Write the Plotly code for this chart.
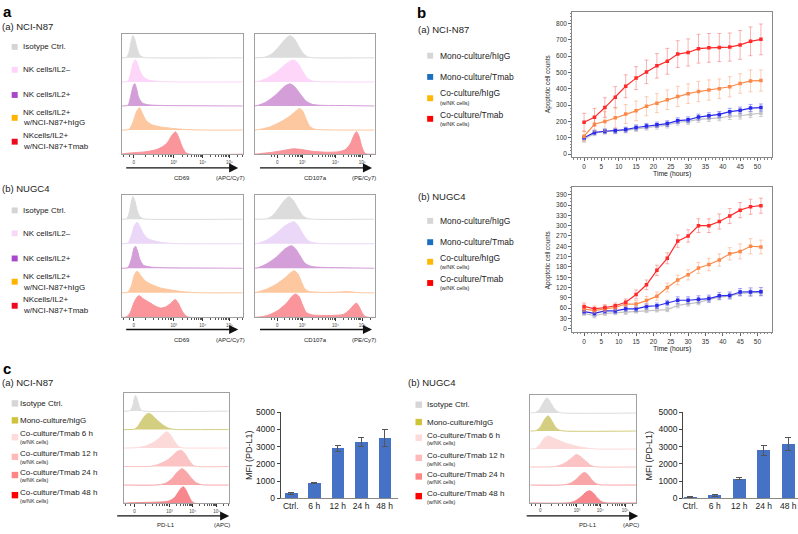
import numpy as np
import plotly.graph_objects as go

W, H = 798, 534
FONT = "Liberation Sans, Arial, sans-serif"

# ======================= DATA =======================
# ---- panel a: flow histograms (display position 0-100, relative density 0-1)
HIST_TICK_TEXT = ["0", "10³", "10⁴", "10⁵"]
CD69_TICKS = [9.9, 43, 67, 89]
CD107A_TICKS = [18.9, 39.7, 67.5, 89.7]
PDL1_N87_TICKS = [10.2, 43.5, 65.7, 88.6]
PDL1_NUGC4_TICKS = [9.4, 44, 66, 89.6]

N87_CD69_ISO = [(0, 0), (4, 0.02), (6, 0.25), (8, 0.75), (9.2, 0.93), (10.5, 0.8), (12.5, 0.4), (15, 0.1), (18, 0.02), (22, 0), (100, 0)]
N87_CD69_IL2N = [(0, 0), (5, 0.03), (7.5, 0.4), (9.5, 0.8), (11.3, 0.92), (13, 0.75), (15, 0.45), (18, 0.2), (22, 0.08), (28, 0.03), (35, 0.01), (45, 0), (100, 0)]
N87_CD69_IL2P = [(0, 0), (5, 0.03), (7.5, 0.45), (9.5, 0.85), (10.7, 0.93), (12.3, 0.7), (14, 0.35), (17, 0.12), (22, 0.05), (35, 0.02), (60, 0.01), (100, 0)]
N87_CD69_HIGG = [(0, 0), (6, 0.03), (9, 0.3), (12, 0.75), (14.6, 0.93), (17, 0.7), (20, 0.4), (25, 0.22), (32, 0.13), (40, 0.08), (48, 0.04), (58, 0.01), (70, 0), (100, 0)]
N87_CD69_TMAB = [(0, 0), (3, 0.03), (10, 0.06), (20, 0.1), (28, 0.18), (34, 0.32), (38, 0.5), (41, 0.75), (44.4, 0.93), (47, 0.7), (50, 0.3), (53, 0.06), (56, 0), (100, 0)]

N87_CD107A_ISO = [(0, 0), (8, 0.02), (14, 0.15), (20, 0.45), (25, 0.75), (29.4, 0.92), (33, 0.8), (37, 0.45), (41, 0.15), (45, 0.03), (50, 0), (100, 0)]
N87_CD107A_IL2N = [(0, 0), (3, 0.02), (10, 0.15), (18, 0.4), (25, 0.7), (30, 0.88), (33, 0.9), (36, 0.78), (40, 0.45), (44, 0.15), (48, 0.04), (55, 0.01), (100, 0)]
N87_CD107A_IL2P = [(0, 0), (3, 0.03), (10, 0.18), (18, 0.48), (25, 0.82), (29.4, 0.92), (33, 0.82), (38, 0.5), (43, 0.2), (48, 0.07), (55, 0.03), (75, 0.02), (100, 0)]
N87_CD107A_HIGG = [(0, 0), (3, 0.02), (12, 0.12), (22, 0.35), (30, 0.6), (35, 0.82), (37.5, 0.9), (40, 0.8), (43, 0.45), (46, 0.15), (50, 0.04), (58, 0.01), (100, 0)]
N87_CD107A_TMAB = [(0, 0), (4, 0.02), (15, 0.08), (25, 0.16), (32, 0.22), (38, 0.2), (48, 0.12), (60, 0.08), (70, 0.1), (76, 0.2), (80, 0.45), (83, 0.8), (85, 0.93), (87, 0.75), (89.5, 0.3), (92, 0.04), (95, 0), (100, 0)]

NUGC4_CD69_ISO = [(0, 0), (4, 0.02), (6, 0.25), (8, 0.75), (9.2, 0.93), (10.5, 0.8), (12.5, 0.4), (15, 0.1), (18, 0.02), (22, 0), (100, 0)]
NUGC4_CD69_IL2N = [(0, 0), (5, 0.03), (8, 0.35), (10.5, 0.75), (12.7, 0.88), (15, 0.7), (18, 0.4), (22, 0.2), (28, 0.1), (35, 0.04), (42, 0.01), (50, 0), (100, 0)]
NUGC4_CD69_IL2P = [(0, 0), (5, 0.03), (8, 0.4), (10, 0.82), (11.3, 0.9), (13, 0.7), (15, 0.35), (18, 0.12), (24, 0.05), (40, 0.02), (70, 0.01), (100, 0)]
NUGC4_CD69_HIGG = [(0, 0), (5, 0.03), (8, 0.3), (10.5, 0.75), (12.7, 0.88), (15, 0.75), (19, 0.5), (25, 0.33), (32, 0.2), (40, 0.12), (48, 0.06), (56, 0.02), (66, 0), (100, 0)]
NUGC4_CD69_TMAB = [(0, 0), (4, 0.02), (7, 0.2), (10, 0.6), (13, 0.85), (14.5, 0.88), (18, 0.75), (23, 0.6), (28, 0.45), (32, 0.38), (36, 0.42), (40, 0.55), (43, 0.7), (44.5, 0.72), (47, 0.55), (50, 0.25), (53, 0.06), (56, 0), (100, 0)]

NUGC4_CD107A_ISO = [(0, 0), (10, 0.02), (15, 0.15), (20, 0.45), (25, 0.78), (28.6, 0.92), (32, 0.78), (36, 0.45), (40, 0.15), (44, 0.03), (50, 0), (100, 0)]
NUGC4_CD107A_IL2N = [(0, 0), (3, 0.02), (10, 0.15), (18, 0.42), (25, 0.72), (30, 0.86), (32.8, 0.9), (36, 0.75), (40, 0.42), (44, 0.15), (48, 0.05), (55, 0.01), (100, 0)]
NUGC4_CD107A_IL2P = [(0, 0), (3, 0.03), (10, 0.18), (18, 0.45), (25, 0.78), (30.6, 0.92), (34, 0.8), (38, 0.5), (42, 0.2), (47, 0.08), (55, 0.04), (75, 0.02), (100, 0)]
NUGC4_CD107A_HIGG = [(0, 0), (2, 0.03), (10, 0.15), (18, 0.35), (25, 0.6), (30, 0.82), (32.8, 0.9), (36, 0.78), (39, 0.45), (42, 0.15), (46, 0.05), (55, 0.02), (70, 0.03), (77, 0.05), (84, 0.02), (90, 0), (100, 0)]
NUGC4_CD107A_TMAB = [(0, 0), (5, 0.02), (12, 0.1), (20, 0.3), (27, 0.6), (31, 0.85), (34.2, 0.95), (37, 0.85), (40, 0.5), (43, 0.2), (48, 0.1), (55, 0.08), (65, 0.08), (74, 0.12), (79, 0.3), (83, 0.52), (85, 0.58), (87, 0.45), (89.5, 0.2), (92, 0.04), (95, 0), (100, 0)]

# ---- panel c: PD-L1 histograms
N87_PDL1_ISO = [(0, 0), (6, 0.02), (8.5, 0.3), (10, 0.7), (11.1, 0.85), (12.5, 0.7), (14.5, 0.3), (16.5, 0.05), (19, 0), (100, 0)]
N87_PDL1_MONO = [(0, 0), (10, 0.02), (13, 0.15), (17, 0.5), (21, 0.8), (23.8, 0.88), (27, 0.78), (32, 0.5), (38, 0.22), (43, 0.07), (48, 0.01), (52, 0), (100, 0)]
N87_PDL1_6H = [(0, 0), (12, 0.02), (20, 0.1), (28, 0.3), (34, 0.55), (38, 0.78), (41, 0.88), (44, 0.75), (48, 0.4), (52, 0.1), (56, 0.01), (60, 0), (100, 0)]
N87_PDL1_12H = [(0, 0), (25, 0.01), (32, 0.1), (40, 0.3), (46, 0.55), (51, 0.82), (54.6, 0.88), (58, 0.72), (62, 0.35), (66, 0.07), (70, 0), (100, 0)]
N87_PDL1_24H = [(0, 0), (33, 0.01), (40, 0.1), (46, 0.35), (51, 0.7), (55.5, 0.88), (59, 0.75), (64, 0.4), (69, 0.12), (74, 0.02), (78, 0), (100, 0)]
N87_PDL1_48H = [(0, 0), (2, 0.02), (15, 0.05), (30, 0.07), (42, 0.12), (48, 0.3), (52, 0.62), (55, 0.85), (56.8, 0.9), (59, 0.75), (62, 0.4), (65, 0.1), (68, 0.01), (72, 0), (100, 0)]

NUGC4_PDL1_ISO = [(0, 0), (4, 0.02), (8, 0.15), (12, 0.55), (15.7, 0.85), (19, 0.6), (23, 0.22), (27, 0.04), (31, 0), (100, 0)]
NUGC4_PDL1_MONO = [(0, 0), (5, 0.02), (9, 0.18), (13, 0.6), (16.7, 0.85), (20, 0.6), (24, 0.2), (28, 0.04), (32, 0), (100, 0)]
NUGC4_PDL1_6H = [(0, 0), (5, 0.03), (9, 0.25), (13, 0.6), (17.3, 0.72), (22, 0.6), (28, 0.45), (35, 0.3), (42, 0.18), (50, 0.08), (58, 0.02), (64, 0), (100, 0)]
NUGC4_PDL1_12H = [(0, 0), (20, 0.01), (26, 0.06), (32, 0.2), (38, 0.45), (42, 0.65), (44, 0.7), (47, 0.6), (52, 0.35), (57, 0.1), (61, 0.02), (65, 0), (100, 0)]
NUGC4_PDL1_24H = [(0, 0), (32, 0.01), (38, 0.1), (44, 0.35), (48.5, 0.62), (51.3, 0.7), (54, 0.6), (58, 0.3), (62, 0.08), (66, 0.01), (70, 0), (100, 0)]
NUGC4_PDL1_48H = [(0, 0), (36, 0.01), (42, 0.1), (48, 0.35), (53, 0.62), (56, 0.68), (59, 0.58), (63, 0.3), (67, 0.08), (71, 0.01), (75, 0), (100, 0)]

# ---- panel b: apoptotic cell counts
TIME_H = [0, 3, 6, 9, 12, 15, 18, 21, 24, 27, 30, 33, 36, 39, 42, 45, 48, 51]
N87_MONO_HIGG = [88, 128, 138, 140, 145, 155, 163, 170, 177, 195, 200, 213, 218, 222, 232, 235, 243, 250]
N87_MONO_HIGG_ERR = [15, 15, 15, 15, 15, 16, 16, 17, 17, 18, 18, 18, 18, 18, 20, 20, 20, 20]
N87_MONO_TMAB = [100, 133, 140, 143, 150, 163, 172, 180, 187, 205, 210, 227, 235, 243, 260, 268, 282, 285]
N87_MONO_TMAB_ERR = [12, 14, 14, 15, 15, 16, 16, 16, 17, 17, 18, 18, 18, 18, 20, 20, 22, 22]
N87_CO_HIGG = [110, 183, 200, 222, 245, 265, 293, 312, 333, 353, 370, 383, 392, 400, 412, 432, 448, 450]
N87_CO_HIGG_ERR = [30, 45, 60, 62, 58, 60, 58, 58, 60, 62, 60, 62, 62, 60, 62, 60, 67, 65]
N87_CO_TMAB = [195, 225, 285, 348, 415, 465, 503, 540, 568, 612, 622, 645, 650, 652, 655, 668, 690, 702]
N87_CO_TMAB_ERR = [55, 55, 60, 65, 70, 70, 72, 75, 79, 82, 83, 88, 88, 86, 86, 88, 88, 94]

NUGC4_MONO_HIGG = [45, 38, 45, 47, 48, 52, 53, 55, 56, 68, 73, 77, 85, 92, 95, 103, 105, 105]
NUGC4_MONO_HIGG_ERR = [6, 6, 6, 6, 6, 6, 6, 6, 6, 7, 7, 7, 8, 8, 8, 8, 8, 8]
NUGC4_MONO_TMAB = [50, 45, 52, 52, 58, 58, 65, 67, 75, 83, 83, 86, 88, 96, 97, 107, 107, 108]
NUGC4_MONO_TMAB_ERR = [7, 7, 7, 7, 7, 8, 8, 8, 8, 10, 10, 10, 10, 10, 10, 10, 12, 12]
NUGC4_CO_HIGG = [58, 53, 58, 62, 72, 72, 82, 95, 120, 142, 157, 177, 187, 200, 218, 225, 240, 238]
NUGC4_CO_HIGG_ERR = [8, 7, 8, 8, 8, 10, 12, 12, 13, 14, 15, 16, 18, 18, 18, 22, 22, 20]
NUGC4_CO_TMAB = [65, 58, 62, 67, 77, 100, 128, 170, 205, 255, 270, 300, 300, 312, 328, 345, 355, 358]
NUGC4_CO_TMAB_ERR = [10, 8, 8, 8, 10, 13, 14, 15, 16, 18, 18, 20, 20, 22, 22, 22, 22, 22]

# ---- panel c: PD-L1 MFI bars
BAR_CATS = ["Ctrl.", "6 h", "12 h", "24 h", "48 h"]
N87_MFI = [285, 900, 2900, 3280, 3480]
N87_MFI_ERR = [70, 30, 170, 260, 500]
NUGC4_MFI = [60, 160, 1130, 2770, 3160]
NUGC4_MFI_ERR = [15, 40, 50, 285, 400]

# ======================= FIGURE =======================
fig = go.Figure()
layout_axes = {}


def dx(a, b):
    return [a / W, b / W]


def dy(top, bottom):
    return [1 - bottom / H, 1 - top / H]


def axname(i, kind):
    return kind if i == 1 else f"{kind}{i}"


def hist_minor(p):
    p0, p3, p4, p5 = p
    m = [p0 - 0.25 * (p3 - p0), p0 - 0.12 * (p3 - p0)]
    for f in [0.3, 0.5, 0.62, 0.72, 0.8, 0.86, 0.91, 0.95]:
        m.append(p0 + f * (p3 - p0))
    for a, b in [(p3, p4), (p4, p5), (p5, p5 + (p5 - p4))]:
        for k in range(2, 10):
            v = a + np.log10(k) * (b - a)
            if 0 <= v <= 100:
                m.append(v)
    return [v for v in m if 0 <= v <= 100]


def hist_panel(i, x0, x1, y0, y1, rows, colors, ticks):
    n = len(rows)
    for k, (pts, col) in enumerate(zip(rows, colors)):
        base = n - 1 - k
        fig.add_trace(go.Scatter(
            x=[p[0] for p in pts], y=[base + p[1] for p in pts],
            mode="lines", fill="toself", fillcolor=col,
            line=dict(color=col, width=1, shape="spline", smoothing=0.7),
            xaxis=f"x{i}", yaxis=f"y{i}", hoverinfo="skip", showlegend=False))
    layout_axes[axname(i, "xaxis")] = dict(
        domain=dx(x0, x1), anchor=f"y{i}", range=[0, 100], showline=True, mirror=True,
        linecolor="#a0a0a0", linewidth=1, showgrid=False, zeroline=False,
        tickmode="array", tickvals=ticks, ticktext=HIST_TICK_TEXT, ticks="outside",
        ticklen=3, tickwidth=0.8, tickcolor="#333",
        tickfont=dict(size=4.5, color="#444", family=FONT),
        minor=dict(tickmode="array", tickvals=hist_minor(ticks), ticks="outside",
                   ticklen=2, tickwidth=0.6, tickcolor="#555"),
        fixedrange=True)
    layout_axes[axname(i, "yaxis")] = dict(
        domain=dy(y0, y1), anchor=f"x{i}", range=[0, n], showline=True, mirror=True,
        linecolor="#a0a0a0", linewidth=1, showgrid=False, zeroline=False,
        showticklabels=False, ticks="", fixedrange=True)


A_COLORS_N87 = ["#dcdcdc", "#fdd6f9", "#d49ed8", "#fdc7a0", "#f9959b"]
A_COLORS_NUGC4 = ["#dcdcdc", "#ebd8f8", "#d49ed8", "#fdc7a0", "#f9959b"]
C_COLORS = ["#dedede", "#d4ce80", "#fddada", "#fbc3c3", "#f9a6a9", "#f8868d"]

hist_panel(1, 121, 242, 29.3, 152,
           [N87_CD69_ISO, N87_CD69_IL2N, N87_CD69_IL2P, N87_CD69_HIGG, N87_CD69_TMAB],
           A_COLORS_N87, CD69_TICKS)
hist_panel(2, 254, 374, 29.3, 152,
           [N87_CD107A_ISO, N87_CD107A_IL2N, N87_CD107A_IL2P, N87_CD107A_HIGG, N87_CD107A_TMAB],
           A_COLORS_N87, CD107A_TICKS)
hist_panel(3, 121, 242, 193.3, 318.3,
           [NUGC4_CD69_ISO, NUGC4_CD69_IL2N, NUGC4_CD69_IL2P, NUGC4_CD69_HIGG, NUGC4_CD69_TMAB],
           A_COLORS_NUGC4, CD69_TICKS)
hist_panel(4, 254, 374, 193.3, 318.3,
           [NUGC4_CD107A_ISO, NUGC4_CD107A_IL2N, NUGC4_CD107A_IL2P, NUGC4_CD107A_HIGG, NUGC4_CD107A_TMAB],
           A_COLORS_NUGC4, CD107A_TICKS)
hist_panel(7, 123, 228, 395, 508,
           [N87_PDL1_ISO, N87_PDL1_MONO, N87_PDL1_6H, N87_PDL1_12H, N87_PDL1_24H, N87_PDL1_48H],
           C_COLORS, PDL1_N87_TICKS)
hist_panel(9, 530, 636, 397.5, 507.5,
           [NUGC4_PDL1_ISO, NUGC4_PDL1_MONO, NUGC4_PDL1_6H, NUGC4_PDL1_12H, NUGC4_PDL1_24H, NUGC4_PDL1_48H],
           C_COLORS, PDL1_NUGC4_TICKS)

# ---- line charts
LINE_STYLES = [
    ("#c4c4c4", "rgba(185,185,185,0.75)"),
    ("#2a2aee", "rgba(90,90,240,0.6)"),
    ("#fb8a4a", "rgba(250,165,120,0.6)"),
    ("#ff2a2a", "rgba(245,100,100,0.55)"),
]


def line_panel(i, top, bottom, series, yrange, ydtick, yminor):
    for (vals, errs), (lc, ec) in zip(series, LINE_STYLES):
        fig.add_trace(go.Scatter(
            x=TIME_H, y=vals, mode="lines+markers",
            line=dict(color=lc, width=1.2),
            marker=dict(symbol="square", size=3.5, color=lc),
            error_y=dict(type="data", array=errs, visible=True, color=ec, thickness=0.9, width=2),
            xaxis=f"x{i}", yaxis=f"y{i}", hoverinfo="skip", showlegend=False))
    layout_axes[axname(i, "xaxis")] = dict(
        domain=dx(572, 772), anchor=f"y{i}", range=[-3.4, 54.2], tickmode="linear", tick0=0, dtick=5,
        ticks="outside", ticklen=3, tickwidth=0.8, tickcolor="#666",
        tickfont=dict(size=6.5, color="#333", family=FONT),
        minor=dict(tickmode="linear", tick0=0, dtick=1, ticks="outside", ticklen=1.5, tickcolor="#888"),
        showline=True, mirror=True, linecolor="#888", linewidth=1, showgrid=False, zeroline=False)
    layout_axes[axname(i, "yaxis")] = dict(
        domain=dy(top, bottom), anchor=f"x{i}", range=yrange, tickmode="linear", tick0=0, dtick=ydtick,
        ticks="outside", ticklen=3, tickwidth=0.8, tickcolor="#666",
        tickfont=dict(size=6.5, color="#333", family=FONT),
        minor=dict(tickmode="linear", tick0=0, dtick=yminor, ticks="outside", ticklen=1.5, tickcolor="#888"),
        showline=True, mirror=True, linecolor="#888", linewidth=1, showgrid=False, zeroline=False)


line_panel(5, 6.7, 155, [(N87_MONO_HIGG, N87_MONO_HIGG_ERR), (N87_MONO_TMAB, N87_MONO_TMAB_ERR),
                         (N87_CO_HIGG, N87_CO_HIGG_ERR), (N87_CO_TMAB, N87_CO_TMAB_ERR)],
           [-18, 872], 100, 20)
line_panel(6, 185, 333, [(NUGC4_MONO_HIGG, NUGC4_MONO_HIGG_ERR), (NUGC4_MONO_TMAB, NUGC4_MONO_TMAB_ERR),
                         (NUGC4_CO_HIGG, NUGC4_CO_HIGG_ERR), (NUGC4_CO_TMAB, NUGC4_CO_TMAB_ERR)],
           [-8.6, 413.7], 30, 10)


# ---- bar charts
def bar_panel(i, x0, x1, xrange, vals, errs, width):
    fig.add_trace(go.Bar(
        x=BAR_CATS, y=vals, width=width, marker=dict(color="#4672c6", line=dict(width=0)),
        error_y=dict(type="data", array=errs, visible=True, color="#555", thickness=1, width=3),
        xaxis=f"x{i}", yaxis=f"y{i}", hoverinfo="skip", showlegend=False))
    layout_axes[axname(i, "xaxis")] = dict(
        domain=dx(x0, x1), anchor=f"y{i}", type="category", range=xrange,
        showline=True, linecolor="#888", linewidth=1, ticks="", showgrid=False, zeroline=False,
        tickfont=dict(size=8.5, color="#222", family=FONT))
    layout_axes[axname(i, "yaxis")] = dict(
        domain=dy(415, 502.7), anchor=f"x{i}", range=[0, 5000], tickmode="linear", tick0=0, dtick=1000,
        ticks="outside", ticklen=3, tickwidth=1, tickcolor="#444",
        showline=True, linecolor="#444", linewidth=1, showgrid=False, zeroline=False,
        tickfont=dict(size=8.5, color="#222", family=FONT))


bar_panel(8, 280, 397, [-0.43, 4.55], N87_MFI, N87_MFI_ERR, 0.55)
bar_panel(10, 683, 798, [-0.29, 4.4], NUGC4_MFI, NUGC4_MFI_ERR, 0.53)


# ======================= TEXT / DECOR =======================
def txt(s, x, y, size, anchor="left", bold=False, color="#222", angle=0):
    fig.add_annotation(text=f"<b>{s}</b>" if bold else s, x=x / W, y=1 - y / H,
                       xref="paper", yref="paper", xanchor=anchor, yanchor="middle",
                       showarrow=False, textangle=angle, borderpad=0,
                       font=dict(size=size, color=color, family=FONT))


def sq(x0, yc, col, s=6):
    fig.add_shape(type="rect", xref="paper", yref="paper", x0=x0 / W, x1=(x0 + s) / W,
                  y0=1 - (yc + s / 2) / H, y1=1 - (yc - s / 2) / H,
                  fillcolor=col, line=dict(width=0))


def arrow(x_tail, x_head, y):
    fig.add_annotation(x=x_head / W, y=1 - y / H, xref="paper", yref="paper",
                       ax=x_tail - x_head, ay=0, axref="pixel", ayref="pixel", text="",
                       showarrow=True, arrowhead=2, arrowsize=1.4, arrowwidth=1.3, arrowcolor="#111")


# panel letters
txt("a", 1, 7, 15, bold=True, color="#000")
txt("b", 416, 7.5, 15, bold=True, color="#000")
txt("c", 1, 370, 15, bold=True, color="#000")

# ---- panel a legends
A_SQ_N87 = ["#d4d4d4", "#ffd3fa", "#a848c8", "#ffb400", "#ee0a1e"]
A_SQ_NUGC4 = ["#d4d4d4", "#f7d8f7", "#a848c8", "#ffb400", "#ee0a1e"]
txt("(a) NCI-N87", 0, 22, 9.5)
txt("(b) NUGC4", 0, 187.5, 9.5)
a_rows_top = dict(sq=[42.7, 66, 91.7, 115, 139.3],
                  lines=[[(42.7, "Isotype Ctrl.")], [(66, "NK cells/IL2–")], [(91.7, "NK cells/IL2+")],
                         [(109.3, "NK cells/IL2+"), (120, "w/NCI-N87+hIgG")],
                         [(133.3, "NKcells/IL2+"), (144, "w/NCI-N87+Tmab")]])
a_rows_bot = dict(sq=[209.3, 232.7, 258.3, 282, 306.5],
                  lines=[[(209.3, "Isotype Ctrl.")], [(232.7, "NK cells/IL2–")], [(258.3, "NK cells/IL2+")],
                         [(277, "NK cells/IL2+"), (287.7, "w/NCI-N87+hIgG")],
                         [(300.5, "NKcells/IL2+"), (311, "w/NCI-N87+Tmab")]])
for rows, sqcols in [(a_rows_top, A_SQ_N87), (a_rows_bot, A_SQ_NUGC4)]:
    for yc, col, lines in zip(rows["sq"], sqcols, rows["lines"]):
        sq(10.7, yc, col)
        for ly, s in lines:
            txt(s, 20.7, ly, 8)

for ylab, yarr in [(176, 166), (341.7, 330.7)]:
    arrow(124, 237.5, yarr)
    arrow(258, 371.5, yarr)
    txt("CD69", 181.7, ylab, 6, anchor="center")
    txt("(APC/Cy7)", 230, ylab, 6, anchor="center")
    txt("CD107a", 315, ylab, 6, anchor="center")
    txt("(PE/Cy7)", 363.3, ylab, 6, anchor="center")

# ---- panel b legends
B_SQ = ["#d6d6d6", "#1c6fc0", "#ffb800", "#ff0000"]
txt("(a) NCI-N87", 416.7, 25, 9.5)
txt("(b) NUGC4", 416.7, 195, 9.5)
for sqys, lines in [
    ([51.7, 73.3, 95, 116], [[(51.7, "Mono-culture/hIgG", 8.5)], [(73.3, "Mono-culture/Tmab", 8.5)],
                             [(90, "Co-culture/hIgG", 8.5), (99.5, "(w/NK cells)", 5.5)],
                             [(111.7, "Co-culture/Tmab", 8.5), (121, "(w/NK cells)", 5.5)]]),
    ([220, 241.7, 261.7, 283.3], [[(220, "Mono-culture/hIgG", 8.5)], [(241.7, "Mono-culture/Tmab", 8.5)],
                                  [(257.7, "Co-culture/hIgG", 8.5), (267.3, "(w/NK cells)", 5.5)],
                                  [(279, "Co-culture/Tmab", 8.5), (288.3, "(w/NK cells)", 5.5)]]),
]:
    for yc, col, ls in zip(sqys, B_SQ, lines):
        sq(426.7, yc, col)
        for ly, s, fs in ls:
            txt(s, 438.3, ly, fs)

txt("Apoptotic cell counts", 547.7, 80.5, 6.3, anchor="center", angle=-90)
txt("Time (hours)", 671.7, 172.7, 6.8, anchor="center")
txt("Apoptotic cell counts", 547.7, 260, 6.3, anchor="center", angle=-90)
txt("Time (hours)", 671.7, 350.7, 6.8, anchor="center")

# ---- panel c legends
C_SQ = ["#d6d6d6", "#cec43a", "#ffdada", "#ffb9b9", "#ff8585", "#ff0000"]
txt("(a) NCI-N87", 0, 385, 9.5)
txt("(b) NUGC4", 406.7, 385, 9.5)
C_LABELS = ["Isotype Ctrl.", "Mono-culture/hIgG", "Co-culture/Tmab 6 h", "Co-culture/Tmab 12 h",
            "Co-culture/Tmab 24 h", "Co-culture/Tmab 48 h"]
for sqx, tx, sqys, main_y in [
    (10.7, 18.5, [406, 423.3, 440.5, 460.5, 479, 499.5], [406, 423.3, 436.7, 457.3, 476, 497.3]),
    (415, 426, [407.3, 425, 441, 461.5, 480.5, 500.5], [407.3, 425, 438.3, 459.3, 478.3, 498.3]),
]:
    for k, (yc, my, col, lab) in enumerate(zip(sqys, main_y, C_SQ, C_LABELS)):
        sq(sqx, yc, col, 6.5)
        txt(lab, tx, my, 8)
        if k >= 2:
            txt("(w/NK cells)", tx, my + 8.3, 5.3)

arrow(115, 228.5, 520.7)
arrow(525, 638, 520.7)
txt("PD-L1", 165, 530, 6, anchor="center")
txt("(APC)", 221.7, 530, 6, anchor="center")
txt("PD-L1", 588, 530, 6, anchor="center")
txt("(APC)", 631, 530, 6, anchor="center")
txt("MFI (PD-L1)", 248.3, 458.5, 9, anchor="center", angle=-90)
txt("MFI (PD-L1)", 648.3, 458.5, 9, anchor="center", angle=-90)

fig.update_layout(
    width=W, height=H, margin=dict(l=0, r=0, t=0, b=0),
    paper_bgcolor="white", plot_bgcolor="white",
    font=dict(family=FONT, color="#222"), showlegend=False, bargap=0,
    **layout_axes)

fig.write_html("out.html", config={"displayModeBar": False},
               post_script="document.body.style.margin='0';document.body.style.padding='0';")
